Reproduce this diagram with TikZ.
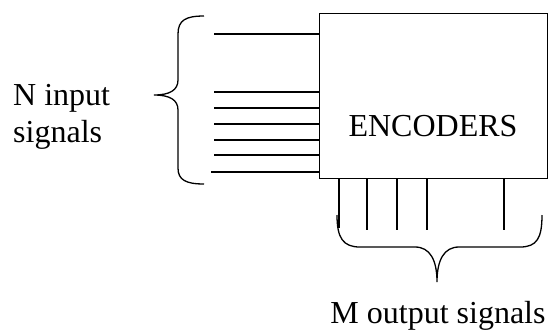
\documentclass[tikz,border=0pt]{standalone}
\usepackage{fontspec}
\setmainfont{Liberation Serif}
\begin{document}
\begin{tikzpicture}[x=1pt,y=-1pt,
  wire/.style={line width=1.3pt},
  brace/.style={line width=1.3pt},
  lbl/.style={font=\fontsize{32}{37}\selectfont, inner sep=0pt},
  encbox/.style={draw, line width=1.3pt, minimum width=228pt, minimum height=165pt, inner sep=0pt}]
\useasboundingbox (0,0) rectangle (548,333);
\node[encbox, anchor=north west] (enc) at (318.5,12.5) {};
\node[lbl] (enclbl) at (433,126) {ENCODERS};
% input wires
\foreach \y/\xs [count=\i] in {34/214,92/214,108/214,124/214,140/214,155/214,172/211}{
  \coordinate (in\i) at (\xs,\y);
  \draw[wire] (in\i) -- (in\i -| enc.west);
}
% output wires
\foreach \x/\ye [count=\i] in {339/228,367/230,397/230,427/230,504/230}{
  \coordinate (out\i) at (\x,\ye);
  \draw[wire] (out\i |- enc.south) -- (out\i);
}
% left brace
\draw[brace] (204,16) .. controls (186,16) and (178,20) .. (178,34) -- (178,80)
  .. controls (178,90) and (170,95) .. (154,95)
  .. controls (170,95) and (178,100) .. (178,110) -- (178,168)
  .. controls (178,180) and (186,184) .. (204,184);
% bottom brace
\draw[brace] (337,215) .. controls (337,238) and (343,247) .. (360,247) -- (415,247)
  .. controls (430,247) and (437,260) .. (437,282)
  .. controls (437,260) and (444,247) .. (459,247) -- (520,247)
  .. controls (537,247) and (542,238) .. (542,215);
\node[lbl, anchor=base west] (nin) at (13,105) {N input};
\node[lbl, anchor=base west] (sig) at (13,142) {signals};
\node[lbl, anchor=base] (mout) at (438,323) {M output signals};
\end{tikzpicture}
\end{document}
